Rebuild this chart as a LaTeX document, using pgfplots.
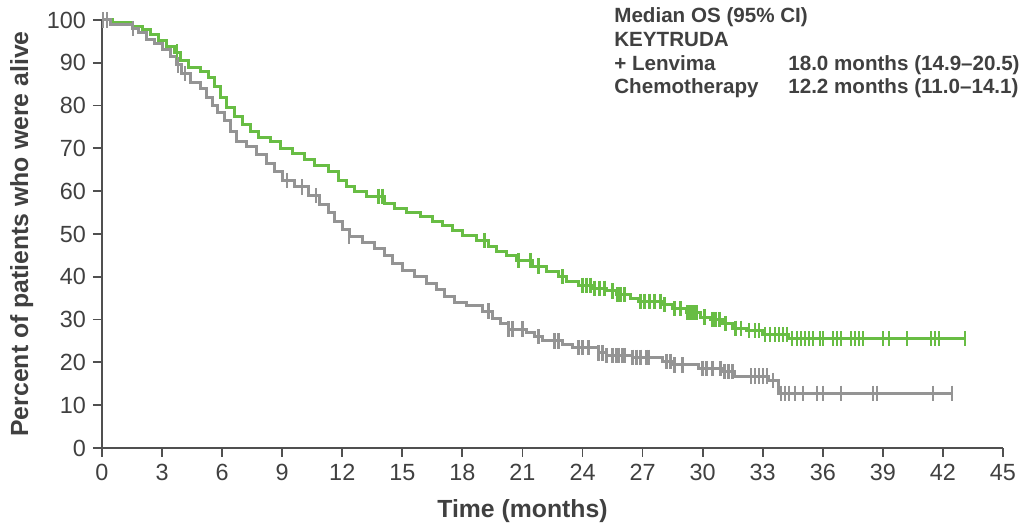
\documentclass[border=0pt]{standalone}
\usepackage{fontspec}
\setmainfont{Liberation Sans}
\usepackage{pgfplots}
\pgfplotsset{compat=1.18}
\definecolor{kgreen}{RGB}{104,189,68}
\definecolor{cgray}{RGB}{148,148,148}
\definecolor{txt}{RGB}{64,64,64}
\definecolor{axl}{RGB}{80,80,80}

\begin{document}
\begin{tikzpicture}
\begin{axis}[
    scale only axis,
    width=450.5pt, height=214pt,
    xmin=0, xmax=45, ymin=0, ymax=100,
    axis lines=left,
    axis line style={-, draw=axl, line width=0.9pt},
    xtick={0,3,...,45},
    ytick={0,10,...,100},
    tick align=outside,
    major tick length=4.5pt,
    tick style={draw=axl, line width=0.9pt},
    ticklabel style={font=\fontsize{11.7}{13}\selectfont, text=txt},
    /pgf/number format/assume math mode=true,
    xlabel={Time (months)},
    ylabel={Percent of patients who were alive},
    xlabel style={at={(rel axis cs:0.4667,0)}, anchor=base, yshift=-35pt,
        font=\bfseries\fontsize{12.4}{14}\selectfont, text=txt},
    ylabel style={at={(axis description cs:-0.089,0.5)}, anchor=center,
        font=\bfseries\fontsize{12.4}{14}\selectfont, text=txt},
    clip=false,
]
% KEYTRUDA + Lenvima
\addplot[const plot, draw=kgreen, line width=1.5pt] coordinates {
(0,100) (0.5,99.3) (1.5,98.5) (2.0,97.7) (2.4,96.5) (2.8,95.2) (3.2,93.8)
(3.6,92.5) (3.9,90.5) (4.3,89) (4.9,88) (5.3,86.5) (5.6,84.5) (5.9,82)
(6.2,79.5) (6.6,77.5) (7.0,75.5) (7.4,74) (7.8,72.5) (8.4,71.5) (8.9,70)
(9.5,68.9) (10.1,67.5) (10.6,66) (11.3,64.5) (11.8,62.5) (12.2,61) (12.6,60)
(13.2,58.8) (14.1,57.2) (14.6,56) (15.2,55) (15.9,54) (16.5,53) (17.0,52)
(17.5,50.8) (18.0,49.7) (18.7,48.5) (19.3,47) (19.7,46) (20.2,45) (20.7,43.8)
(21.5,42.5) (22.2,41.3) (22.8,40) (23.2,39) (23.8,38) (24.5,37.3) (25.2,36.7)
(25.7,35.8) (26.4,35) (26.8,34.3) (28.0,33.5) (28.5,32.5) (29.2,31.6)
(29.9,30.6) (30.4,30) (31.0,29) (31.5,28) (32.2,27.4) (33.0,26.5) (34.3,25.5)
(43.1,25.5)};
\addplot[only marks, mark=|, mark size=3.8pt, mark options={draw=kgreen, line width=1.2pt}] coordinates {
(3.75,92.5) (13.8,58.8) (14.0,58.8) (19.1,48.5) (20.8,43.8) (21.4,43.8) (21.8,42.5)
(23.0,40) (24.0,38) (24.2,38) (24.4,38) (24.6,37.3) (24.85,37.3) (25.1,37.3)
(25.5,36.7) (25.75,35.8) (25.9,35.8) (26.1,35.8) (26.9,34.3) (27.1,34.3)
(27.35,34.3) (27.6,34.3) (27.9,34.3) (28.1,33.5) (28.6,32.5) (28.9,32.5)
(29.25,31.6) (29.4,31.6) (29.5,31.6) (29.6,31.6) (29.7,31.6) (30.1,30.6)
(30.5,30) (30.65,30) (30.85,30) (31.15,29) (31.65,28) (31.9,28) (32.3,27.4)
(32.6,27.4) (32.8,27.4) (33.1,26.5) (33.35,26.5) (33.6,26.5) (33.8,26.5)
(34.0,26.5) (34.2,26.5) (34.45,25.5) (34.7,25.5) (34.9,25.5) (35.1,25.5)
(35.3,25.5) (35.5,25.5) (35.85,25.5) (36.0,25.5) (36.5,25.5) (36.7,25.5)
(36.9,25.5) (37.4,25.5) (37.6,25.5) (37.8,25.5) (38.0,25.5) (39.0,25.5)
(39.3,25.5) (40.2,25.5) (41.4,25.5) (41.6,25.5) (41.8,25.5) (43.1,25.5)};
% Chemotherapy
\addplot[const plot, draw=cgray, line width=1.5pt] coordinates {
(0,100) (0.4,99) (1.5,98) (1.8,97) (2.2,95.5) (2.6,94.5) (3.0,93) (3.4,91.5)
(3.7,89.5) (3.95,87.5) (4.4,85.5) (4.9,84) (5.2,82) (5.5,80) (5.75,78.5)
(6.1,76.5) (6.4,74) (6.7,71.5) (7.2,70.5) (7.7,68.5) (8.2,66.5) (8.6,64.5)
(9.0,62.5) (9.6,61) (10.3,59) (10.85,57) (11.3,55) (11.6,53) (12.0,51)
(12.35,49.5) (13.0,48) (13.6,46.5) (14.1,45) (14.5,43) (15.0,41.5) (15.6,40)
(16.2,38.5) (16.7,37) (17.1,35.5) (17.6,34) (18.2,33.2) (19.0,32) (19.5,30.2)
(19.9,29) (20.3,27.8) (21.2,27) (21.6,26) (22.0,25) (23.0,24.2) (23.5,23.4)
(24.8,22.2) (25.2,21.6) (26.5,21.2) (28.0,20.2) (28.5,19.4) (29.8,18.6)
(31.0,17.8) (31.6,16.8) (33.3,15.8) (33.8,12.8) (42.5,12.8)};
\addplot[only marks, mark=|, mark size=3.8pt, mark options={draw=cgray, line width=1.2pt}] coordinates {
(0.05,100) (0.25,100) (1.55,98) (3.8,89.5) (4.15,87.5) (9.25,62.5) (10.0,61)
(10.7,59) (12.35,49.5) (19.3,32) (20.3,27.8) (20.5,27.8) (21.0,27.8) (21.8,26)
(22.6,25) (22.8,25) (23.8,23.4) (24.0,23.4) (24.3,23.4) (24.8,22.2) (25.0,22.2)
(25.2,21.6) (25.5,21.6) (25.7,21.6) (25.8,21.6) (26.0,21.6) (26.1,21.6)
(26.5,21.2) (26.7,21.2) (26.9,21.2) (27.2,21.2) (27.3,21.2) (28.2,20.2)
(28.4,20.2) (28.6,19.4) (29.0,19.4) (30.0,18.6) (30.2,18.6) (30.5,18.6)
(30.9,18.6) (31.1,17.8) (31.3,17.8) (31.5,17.8) (32.4,16.8) (32.6,16.8)
(32.8,16.8) (33.0,16.8) (33.2,16.8) (33.5,15.8) (33.9,12.8) (34.1,12.8)
(34.3,12.8) (34.6,12.8) (35.0,12.8) (35.7,12.8) (36.0,12.8) (36.9,12.8)
(38.5,12.8) (38.7,12.8) (41.5,12.8) (42.45,12.8)};
% legend text
\begin{scope}[every node/.style={anchor=base west, inner sep=0pt, text=txt,
    font=\bfseries\fontsize{10.3}{12}\selectfont}]
\node at (axis cs:25.57,99.3) {Median OS (95\% CI)};
\node at (axis cs:25.57,93.7) {KEYTRUDA};
\node at (axis cs:25.57,88.3) {+ Lenvima};
\node at (axis cs:34.26,88.3) {18.0 months (14.9–20.5)};
\node at (axis cs:25.57,82.9) {Chemotherapy};
\node at (axis cs:34.26,82.9) {12.2 months (11.0–14.1)};
\end{scope}
\end{axis}
\pgfresetboundingbox
\path (-51pt,-40pt) rectangle (458.5pt,224pt);
\end{tikzpicture}
\end{document}
